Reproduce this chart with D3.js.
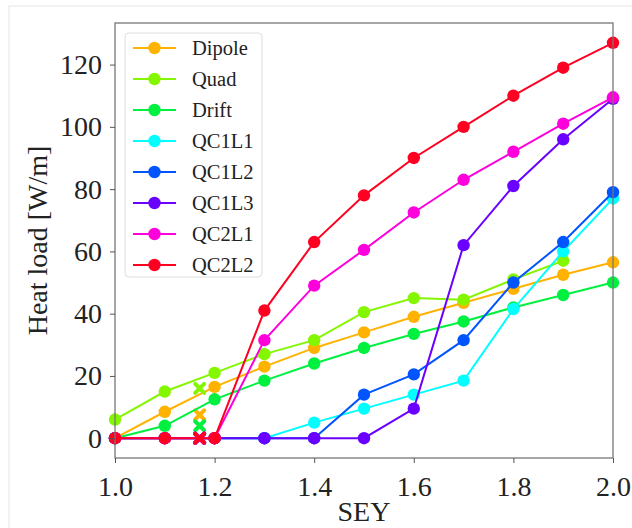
<!DOCTYPE html>
<html><head><meta charset="utf-8">
<script src="https://cdn.jsdelivr.net/npm/d3@7"></script>
<style>body{margin:0;background:#fff}svg{display:block}text{font-family:"Liberation Serif","DejaVu Serif",serif;fill:#222}</style>
</head><body><svg id="c" width="632" height="528"></svg>
<script>
const sey = [1.0,1.1,1.2,1.3,1.4,1.5,1.6,1.7,1.8,1.9,2.0];
const names = ["Dipole","Quad","Drift","QC1L1","QC1L2","QC1L3","QC2L1","QC2L2"];
const colors = ["#ffb300","#84f700","#00f040","#00ffff","#0055ff","#6a00ff","#ff00dd","#ff0022"];
const dipole = [0,8.5,16.5,23,29,34,39,43.5,48,52.5,56.5];
const quad   = [6,15,21,27,31.5,40.5,45,44.5,51,57,null];
const drift  = [0,4,12.5,18.5,24,29,33.5,37.5,42,46,50];
const qc1l1  = [0,0,0,0,5,9.5,14,18.5,41.5,60,77];
const qc1l2  = [0,0,0,0,0,14,20.5,31.5,50,63,79];
const qc1l3  = [0,0,0,0,0,0,9.5,62,81,96,109];
const qc2l1  = [0,0,0,31.5,49,60.5,72.5,83,92,101,109.5];
const qc2l2  = [0,0,0,41,63,78,90,100,110,119,127];
const series = [dipole,quad,drift,qc1l1,qc1l2,qc1l3,qc2l1,qc2l2];
// extra "x" markers at SEY 1.17
const xMarkSey = 1.17;
const xMarkVals = [7.5,16,4,0,0,0,0,0];
const xTicks = [1.0,1.2,1.4,1.6,1.8,2.0];
const yTicks = [0,20,40,60,80,100,120];

const svg = d3.select("#c");
const L=115,R=613,T=23,B=458;
const x = d3.scaleLinear().domain([1,2]).range([L,R]);
const y = d3.scaleLinear().domain([-6.35,133.35]).range([B,T]);

svg.append("rect").attr("x",9).attr("y",6).attr("width",640).attr("height",540).attr("fill","none").attr("stroke","#e6e6e6");

const g = svg.append("g");
series.forEach((s,i)=>{
  const pts = sey.map((v,j)=>[v,s[j]]).filter(d=>d[1]!==null);
  g.append("path").datum(pts).attr("fill","none").attr("stroke",colors[i]).attr("stroke-width",2)
    .attr("d",d3.line().x(d=>x(d[0])).y(d=>y(d[1])));
  g.selectAll(null).data(pts).enter().append("circle").attr("cx",d=>x(d[0])).attr("cy",d=>y(d[1])).attr("r",6.2).attr("fill",colors[i]);
  const xm = x(xMarkSey), ym = y(xMarkVals[i]);
  g.append("path").attr("d","M-4.5,-4.5L4.5,4.5M-4.5,4.5L4.5,-4.5").attr("transform",`translate(${xm},${ym})`).attr("stroke",colors[i]).attr("stroke-width",4).attr("stroke-linecap","round");
});

// frame
svg.append("rect").attr("x",L).attr("y",T).attr("width",R-L).attr("height",B-T).attr("fill","none").attr("stroke","#777").attr("stroke-width",1.3);

const xa = svg.append("g").attr("transform",`translate(0,${B})`).call(d3.axisBottom(x).tickValues(xTicks).tickFormat(d3.format(".1f")).tickSize(5).tickPadding(8));
const ya = svg.append("g").attr("transform",`translate(${L},0)`).call(d3.axisLeft(y).tickValues(yTicks).tickSize(5).tickPadding(8));
[xa,ya].forEach(a=>{a.select(".domain").remove();a.selectAll("line").attr("stroke","#555");a.selectAll("text").attr("font-size",28).attr("font-family","Liberation Serif, serif").attr("fill","#222");});
xa.selectAll("text").attr("dy","0.9em");

svg.append("text").attr("x",(L+R)/2).attr("y",521).attr("text-anchor","middle").attr("font-size",28).text("SEY");
svg.append("text").attr("transform",`translate(47,${(T+B)/2}) rotate(-90)`).attr("text-anchor","middle").attr("font-size",28).text("Heat load [W/m]");

// legend
const lg = svg.append("g");
lg.append("rect").attr("x",125).attr("y",33).attr("width",137).attr("height",244).attr("rx",4).attr("fill","#fff").attr("fill-opacity",0.85).attr("stroke","#ddd");
names.forEach((n,i)=>{
  const yy = 48 + i*31;
  lg.append("line").attr("x1",133).attr("x2",176).attr("y1",yy).attr("y2",yy).attr("stroke",colors[i]).attr("stroke-width",2);
  lg.append("circle").attr("cx",154.5).attr("cy",yy).attr("r",6.2).attr("fill",colors[i]);
  lg.append("text").attr("x",192).attr("y",yy).attr("dy","0.35em").attr("font-size",20.5).text(n);
});
</script></body></html>
